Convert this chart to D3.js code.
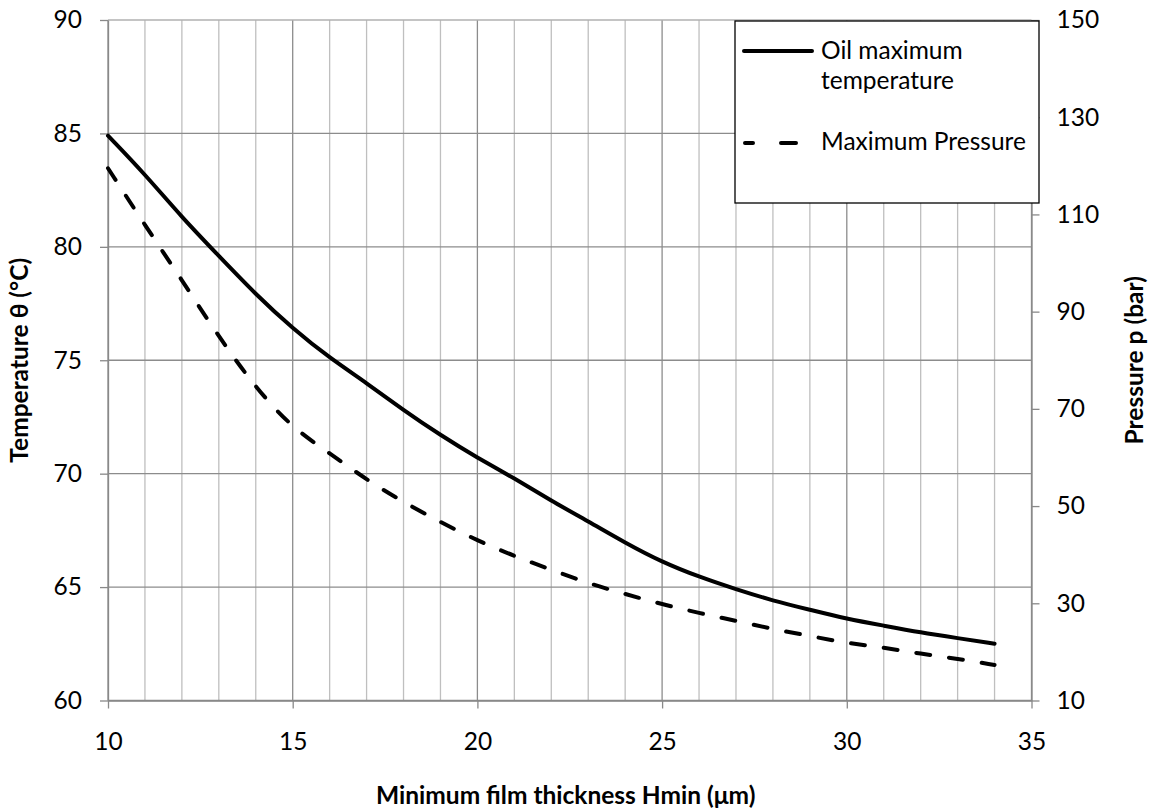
<!DOCTYPE html>
<html>
<head>
<meta charset="utf-8">
<script src="https://d3js.org/d3.v7.min.js"></script>
<style>
  body { margin: 0; background: #fff; }
  svg text { font-family: Lato, "Liberation Sans", sans-serif; fill: #000; }
  .axis path, .axis line { stroke: #898989; }
  .title { font-weight: bold; }
</style>
</head>
<body>
<div id="chart"></div>
<script>
// Minimum film thickness Hmin (µm)
const thickness = [10, 11, 12, 13, 14, 15, 16, 17, 18, 19, 20, 21, 22, 23, 24, 25, 26, 27, 28, 29, 30, 31, 32, 33, 34];
// oil maximum temperature (°C), left axis
const temperature = [84.9, 83.2, 81.3, 79.6, 77.9, 76.4, 75.1, 74.0, 72.8, 71.7, 70.7, 69.8, 68.8, 67.9, 66.95,
  66.1, 65.45, 64.9, 64.4, 64.0, 63.6, 63.3, 63.0, 62.75, 62.5];
// maximum pressure (bar), right axis
const pressure = [119.5, 107.8, 96.5, 84.8, 74.3, 66.0, 60.9, 55.4, 50.8, 46.7, 42.9, 39.7, 36.9, 34.1, 31.9,
  29.8, 28.0, 26.4, 24.7, 23.3, 21.8, 20.9, 19.6, 18.6, 17.3];

const xTicks = [10, 15, 20, 25, 30, 35];
const xMinor = d3.range(10, 36, 1);
const tempTicks = [60, 65, 70, 75, 80, 85, 90];
const pressTicks = [10, 30, 50, 70, 90, 110, 130, 150];

const seriesNames = ['Oil maximum temperature', 'Maximum Pressure'];

const config = {
  width: 1153,
  height: 810,
  margin: {top: 20, right: 121.5, bottom: 109.5, left: 108},
  fontSize: '24.5px'
};
const innerW = config.width - config.margin.left - config.margin.right;
const innerH = config.height - config.margin.top - config.margin.bottom;

const svg = d3.select('#chart').append('svg')
    .attr('width', config.width)
    .attr('height', config.height);

const chart = svg.append('g')
    .attr('transform', `translate(${config.margin.left},${config.margin.top})`);

// scales
const xScale = d3.scaleLinear().domain([10, 35]).range([0, innerW]);
const yTemp = d3.scaleLinear().domain([60, 90]).range([innerH, 0]);
const yPress = d3.scaleLinear().domain([10, 150]).range([innerH, 0]);

// gridlines: minor verticals first, then majors
chart.append('g')
    .selectAll('line')
    .data(xMinor.filter(d => d % 5 !== 0))
  .join('line')
    .attr('x1', d => xScale(d)).attr('x2', d => xScale(d))
    .attr('y1', 0).attr('y2', innerH)
    .attr('stroke', '#bfbfbf').attr('stroke-width', 1.3);

chart.append('g')
    .selectAll('line')
    .data(xTicks)
  .join('line')
    .attr('x1', d => xScale(d)).attr('x2', d => xScale(d))
    .attr('y1', 0).attr('y2', innerH)
    .attr('stroke', '#8c8c8c').attr('stroke-width', 1.3);

chart.append('g')
    .selectAll('line')
    .data(tempTicks)
  .join('line')
    .attr('x1', 0).attr('x2', innerW)
    .attr('y1', d => yTemp(d)).attr('y2', d => yTemp(d))
    .attr('stroke', d => d === 90 ? '#b0b0b0' : '#8c8c8c').attr('stroke-width', 1.3);

// axes
const xAxis = d3.axisBottom(xScale).tickValues(xTicks).tickSize(8).tickPadding(24).tickSizeOuter(0);
const yAxisL = d3.axisLeft(yTemp).tickValues(tempTicks).tickSize(8).tickPadding(18).tickSizeOuter(0);
const yAxisR = d3.axisRight(yPress).tickValues(pressTicks).tickSize(8).tickPadding(17).tickSizeOuter(0);

chart.append('g')
    .attr('class', 'axis x-axis')
    .attr('transform', `translate(0,${innerH})`)
    .call(xAxis);

chart.append('g')
    .attr('class', 'axis y-axis')
    .call(yAxisL);

chart.append('g')
    .attr('class', 'axis y-axis-right')
    .attr('transform', `translate(${innerW},0)`)
    .call(yAxisR);

chart.selectAll('.axis text').style('font-size', config.fontSize).attr('fill', '#000');
chart.selectAll('.axis line, .axis path').attr('stroke-width', 1.3);

// lines
const tempLine = d3.line()
    .x((d, i) => xScale(thickness[i]))
    .y(d => yTemp(d))
    .curve(d3.curveBasis);

const pressLine = d3.line()
    .x((d, i) => xScale(thickness[i]))
    .y(d => yPress(d))
    .curve(d3.curveBasis);

chart.append('path')
    .datum(temperature)
    .attr('d', tempLine)
    .attr('fill', 'none')
    .attr('stroke', '#000')
    .attr('stroke-width', 4)
    .attr('stroke-linejoin', 'round')
    .attr('stroke-linecap', 'round');

chart.append('path')
    .datum(pressure)
    .attr('d', pressLine)
    .attr('fill', 'none')
    .attr('stroke', '#000')
    .attr('stroke-width', 4)
    .attr('stroke-dasharray', '14,19')
    .attr('stroke-linecap', 'round');

// axis titles
svg.append('text')
    .attr('class', 'title')
    .attr('x', config.margin.left + innerW / 2 - 4)
    .attr('y', 804)
    .attr('text-anchor', 'middle')
    .style('font-size', config.fontSize)
    .text('Minimum film thickness Hmin (μm)');

svg.append('text')
    .attr('class', 'title')
    .attr('transform', `translate(28,${config.margin.top + innerH / 2}) rotate(-90)`)
    .attr('text-anchor', 'middle')
    .style('font-size', config.fontSize)
    .text('Temperature θ (°C)');

svg.append('text')
    .attr('class', 'title')
    .attr('transform', `translate(1143,${config.margin.top + innerH / 2}) rotate(-90)`)
    .attr('text-anchor', 'middle')
    .style('font-size', config.fontSize)
    .text('Pressure p (bar)');

// legend
const legend = svg.append('g').attr('transform', 'translate(735,21)');
legend.append('rect')
    .attr('width', 304).attr('height', 182)
    .attr('fill', '#fff').attr('stroke', '#000').attr('stroke-width', 1.3);

legend.append('line')
    .attr('x1', 9).attr('x2', 77).attr('y1', 30).attr('y2', 30)
    .attr('stroke', '#000').attr('stroke-width', 4).attr('stroke-linecap', 'round');
legend.append('text')
    .attr('x', 86).attr('y', 38)
    .style('font-size', config.fontSize)
    .text('Oil maximum');
legend.append('text')
    .attr('x', 86).attr('y', 68)
    .style('font-size', config.fontSize)
    .text('temperature');

legend.append('line')
    .attr('x1', 10).attr('x2', 62).attr('y1', 122).attr('y2', 122)
    .attr('stroke', '#000').attr('stroke-width', 4)
    .attr('stroke-dasharray', '8,28,15,100').attr('stroke-linecap', 'round');
legend.append('text')
    .attr('x', 86).attr('y', 129)
    .style('font-size', config.fontSize)
    .text(seriesNames[1]);
</script>
</body>
</html>
